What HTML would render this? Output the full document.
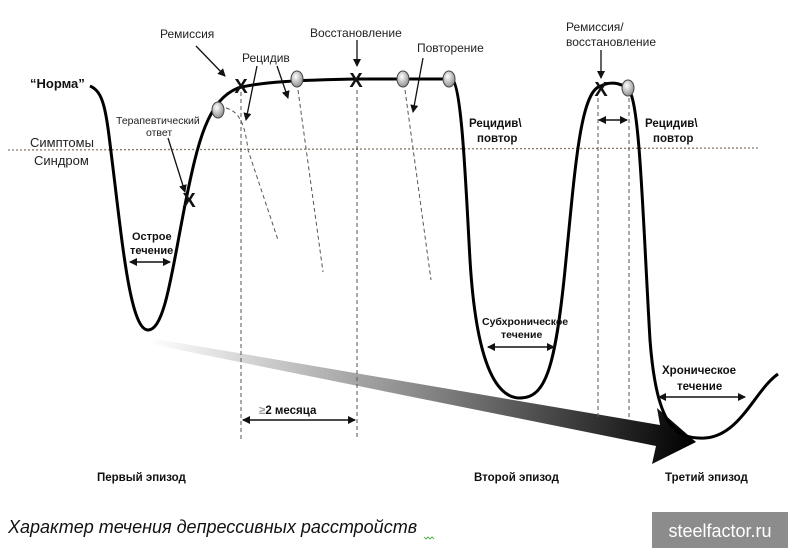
<!DOCTYPE html>
<html><head><meta charset="utf-8"><style>
html,body{margin:0;padding:0;background:#fff;width:788px;height:548px;overflow:hidden}
svg text{font-family:"Liberation Sans",sans-serif}
</style></head><body>
<svg width="788" height="548" viewBox="0 0 788 548" xmlns="http://www.w3.org/2000/svg">
<defs>
<linearGradient id="g" x1="150" y1="340" x2="695" y2="440" gradientUnits="userSpaceOnUse">
<stop offset="0" stop-color="#fff"/><stop offset="0.5" stop-color="#888"/><stop offset="1" stop-color="#000"/></linearGradient>
<radialGradient id="e" cx="0.4" cy="0.35" r="0.7"><stop offset="0" stop-color="#fff"/><stop offset="1" stop-color="#888"/></radialGradient>
<marker id="a" markerWidth="8" markerHeight="8" refX="7" refY="4" orient="auto-start-reverse" markerUnits="userSpaceOnUse"><path d="M0,0 L8,4 L0,8z" fill="#111"/></marker>
</defs>
<path d="M150,338 L660,425 L657,408 L696,442 L652,464 L656,446 L150,344z" fill="url(#g)"/>
<line x1="8" y1="150" x2="758" y2="148" stroke="#8a7a6a" stroke-width="1.3" stroke-dasharray="2,2"/>
<g stroke="#555" stroke-width="1" stroke-dasharray="4,3" fill="none">
<line x1="241" y1="92" x2="241" y2="440"/>
<line x1="357" y1="90" x2="357" y2="440"/>
<line x1="598" y1="98" x2="598" y2="420"/>
<line x1="629" y1="98" x2="629" y2="420"/>
<path d="M226,108 C240,112 245,125 248,150 L278,240"/>
<line x1="298" y1="90" x2="323" y2="272"/>
<line x1="405" y1="90" x2="431" y2="280"/>
</g>
<path d="M90,86 C104,92 106,110 112,160 C122,240 130,330 148,330 C165,330 172,270 185,205 C198,140 208,100 238,88 C260,82 300,80 356,79 L452,79 C462,85 466,190 470,260 C476,360 495,398 520,398 C545,398 555,370 565,270 C575,170 580,90 601,86 C612,80 625,84 630,92 C640,110 643,220 650,340 C656,420 672,440 705,438 C740,436 755,390 778,374" fill="none" stroke="#000" stroke-width="3"/>
<g font-family="Liberation Sans" font-weight="bold" font-size="20" text-anchor="middle" fill="#111">
<text x="189" y="207">X</text><text x="241" y="93">X</text><text x="356" y="87">X</text><text x="601" y="96">X</text>
</g>
<g fill="url(#e)" stroke="#444" stroke-width="1">
<ellipse cx="218" cy="110" rx="6" ry="8"/><ellipse cx="297" cy="79" rx="6" ry="8"/><ellipse cx="403" cy="79" rx="6" ry="8"/><ellipse cx="449" cy="79" rx="6" ry="8"/><ellipse cx="628" cy="88" rx="6" ry="8"/>
</g>
<g stroke="#111" stroke-width="1.3" marker-end="url(#a)">
<line x1="196" y1="46" x2="225" y2="76"/>
<line x1="257" y1="66" x2="246" y2="120"/>
<line x1="277" y1="66" x2="288" y2="98"/>
<line x1="357" y1="40" x2="357" y2="66"/>
<line x1="423" y1="58" x2="413" y2="112"/>
<line x1="168" y1="138" x2="185" y2="192"/>
<line x1="601" y1="50" x2="601" y2="78"/>
</g>
<g stroke="#111" stroke-width="1.5" marker-end="url(#a)" marker-start="url(#a)">
<line x1="130" y1="262" x2="170" y2="262"/>
<line x1="599" y1="120" x2="627" y2="120"/>
<line x1="488" y1="347" x2="554" y2="347"/>
<line x1="659" y1="397" x2="745" y2="397"/>
<line x1="243" y1="420" x2="355" y2="420"/>
</g>
<g font-size="12" fill="#222">
<text x="160" y="38">Ремиссия</text>
<text x="242" y="62">Рецидив</text>
<text x="310" y="37">Восстановление</text>
<text x="417" y="52">Повторение</text>
<text x="566" y="31">Ремиссия/</text>
<text x="566" y="46">восстановление</text>
<text x="116" y="124" font-size="10.5">Терапевтический</text>
<text x="146" y="136" font-size="10.5">ответ</text>
<text x="30" y="147" font-size="13">Симптомы</text>
<text x="34" y="165" font-size="13">Синдром</text>
</g>
<g font-weight="bold" font-size="11.5" fill="#111">
<text x="30" y="88" font-size="13">“Норма”</text>
<text x="132" y="240" font-size="11">Острое</text>
<text x="130" y="254" font-size="11">течение</text>
<text x="469" y="127">Рецидив\</text>
<text x="477" y="142">повтор</text>
<text x="645" y="127">Рецидив\</text>
<text x="653" y="142">повтор</text>
<text x="482" y="325" font-size="10.5">Субхроническое</text>
<text x="501" y="338" font-size="10.5">течение</text>
<text x="662" y="374">Хроническое</text>
<text x="677" y="390">течение</text>
<text x="259" y="414"><tspan fill="#999">≥</tspan>2 месяца</text>
<text x="97" y="481">Первый эпизод</text>
<text x="474" y="481">Второй эпизод</text>
<text x="665" y="481">Третий эпизод</text>
</g>
<text x="8" y="533" font-size="18" font-style="italic" fill="#111">Характер  течения депрессивных расстройств</text>
<path d="M424,537 l2,2 l2,-2 l2,2 l2,-2 l2,2" stroke="#3a3" stroke-width="0.8" fill="none"/>
<rect x="652" y="512" width="136" height="36" fill="#8c8c8c"/>
<text x="720" y="537" font-size="18" fill="#fff" text-anchor="middle">steelfactor.ru</text>
</svg>
</body></html>
